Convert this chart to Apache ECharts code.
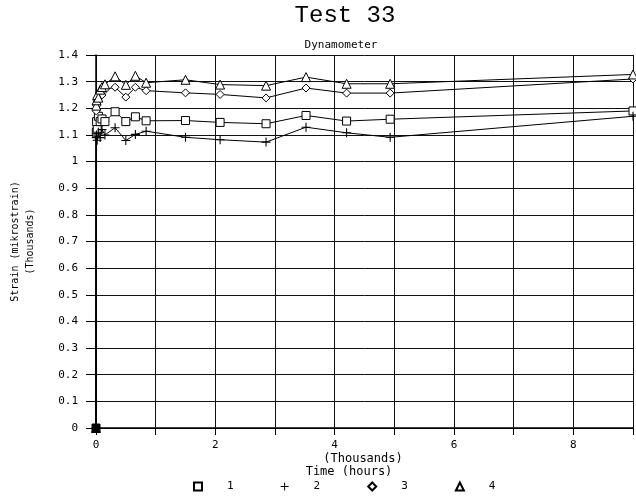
<!DOCTYPE html>
<html>
<head>
<meta charset="utf-8">
<script src="https://cdn.jsdelivr.net/npm/echarts@6/dist/echarts.min.js"></script>
<style>
html,body{margin:0;padding:0;background:#fff;}
#chart{width:636px;height:496px;}
</style>
</head>
<body>
<div id="chart"></div>
<script>
// Time in thousands of hours
var timeK = [0, 0.005, 0.01, 0.02, 0.04, 0.07, 0.1, 0.15, 0.32, 0.5, 0.66, 0.84, 1.5, 2.08, 2.85, 3.52, 4.2, 4.93, 9.0];
// Strain (thousands of mikrostrain)
var series1 = [0, 1.11, 1.15, 1.12, 1.17, 1.15, 1.16, 1.15, 1.187, 1.150, 1.168, 1.153, 1.154, 1.147, 1.142, 1.173, 1.152, 1.159, 1.19];
var series2 = [0, 1.09, 1.10, 1.08, 1.11, 1.09, 1.12, 1.10, 1.127, 1.079, 1.102, 1.114, 1.091, 1.082, 1.073, 1.129, 1.108, 1.091, 1.17];
var series3 = [0, 1.19, 1.21, 1.23, 1.24, 1.26, 1.25, 1.27, 1.279, 1.242, 1.279, 1.266, 1.258, 1.252, 1.239, 1.276, 1.257, 1.257, 1.31];
var series4 = [0, 1.21, 1.23, 1.25, 1.24, 1.27, 1.28, 1.29, 1.32, 1.288, 1.322, 1.296, 1.307, 1.289, 1.285, 1.317, 1.292, 1.292, 1.327];
var seriesNames = ['1', '2', '3', '4'];
var yTicks = [0, 0.1, 0.2, 0.3, 0.4, 0.5, 0.6, 0.7, 0.8, 0.9, 1, 1.1, 1.2, 1.3, 1.4];

var plusPath = 'path://M4.4,0H5.6V4.4H10V5.6H5.6V10H4.4V5.6H0V4.4H4.4Z';
var MONO = 'DejaVu Sans Mono';

function toData(vals) {
  return vals.map(function (v, i) {
    var d = { value: [timeK[i], v] };
    if (i === 0) d.itemStyle = { color: '#000' };
    return d;
  });
}

function mk(name, vals, symbol, size, fill) {
  return {
    name: name,
    type: 'line',
    data: toData(vals),
    symbol: symbol,
    symbolSize: size,
    showAllSymbol: true,
    clip: true,
    lineStyle: { color: '#000', width: 1 },
    itemStyle: { color: fill, borderColor: '#000', borderWidth: fill === '#000' ? 0 : 1 },
    emphasis: { disabled: true },
    animation: false
  };
}

var chart = echarts.init(document.getElementById('chart'), null, { renderer: 'canvas' });
chart.setOption({
  backgroundColor: '#fff',
  animation: false,
  textStyle: { fontFamily: MONO },
  grid: { left: 93, right: -4, top: 55, bottom: 68, containLabel: false },
  xAxis: {
    type: 'value', min: 0, max: 9, interval: 1,
    axisLine: { show: true, onZero: false, lineStyle: { color: '#000', width: 1.5 } },
    axisTick: { show: true, length: 7, lineStyle: { color: '#000' } },
    splitLine: { show: true, lineStyle: { color: '#111', width: 1 } },
    axisLabel: {
      color: '#000', fontSize: 11, fontFamily: MONO, margin: 12,
      formatter: function (v) { return (Math.round(v) % 2 === 0) ? String(Math.round(v)) : ''; }
    }
  },
  yAxis: {
    type: 'value', min: 0, max: 1.4, interval: 0.1,
    name: 'Strain (mikrostrain)\n(Thousands)',
    nameLocation: 'middle', nameRotate: 90, nameGap: 58,
    nameTextStyle: { color: '#000', fontSize: 10, fontFamily: MONO, lineHeight: 15 },
    axisLine: { show: true, lineStyle: { color: '#000', width: 1.5 } },
    axisTick: { show: true, length: 10, lineStyle: { color: '#000' } },
    splitLine: { show: true, lineStyle: { color: '#111', width: 1 } },
    axisLabel: {
      color: '#000', fontSize: 11, fontFamily: MONO, margin: 18,
      formatter: function (v) {
        var t = yTicks.reduce(function (a, b) { return Math.abs(b - v) < Math.abs(a - v) ? b : a; });
        return String(t);
      }
    }
  },
  legend: {
    show: true, left: 193, top: 481, orient: 'horizontal', padding: 0,
    itemWidth: 8, itemHeight: 8, itemGap: 47,
    textStyle: { color: '#000', fontSize: 11, fontFamily: MONO, padding: [0, 0, 0, 20] },
    data: [
      { name: '1', icon: 'rect' },
      { name: '2', icon: plusPath },
      { name: '3', icon: 'diamond' },
      { name: '4', icon: 'triangle' }
    ],
    selectedMode: false
  },
  graphic: [
    { type: 'text', style: { text: 'Test 33', x: 345, y: 16, font: '24px "Liberation Mono"', fill: '#000', align: 'center', verticalAlign: 'middle', textAlign: 'center', textVerticalAlign: 'middle' } },
    { type: 'text', style: { text: 'Dynamometer', x: 341, y: 45, font: '11px "DejaVu Sans Mono"', fill: '#000', align: 'center', verticalAlign: 'middle', textAlign: 'center', textVerticalAlign: 'middle' } },
    { type: 'text', style: { text: '(Thousands)', x: 363, y: 459, font: '12px "DejaVu Sans Mono"', fill: '#000', align: 'center', verticalAlign: 'middle', textAlign: 'center', textVerticalAlign: 'middle' } },
    { type: 'text', style: { text: 'Time (hours)', x: 349, y: 472, font: '12px "DejaVu Sans Mono"', fill: '#000', align: 'center', verticalAlign: 'middle', textAlign: 'center', textVerticalAlign: 'middle' } }
  ],
  series: [
    mk(seriesNames[0], series1, 'rect', 8, '#fff'),
    mk(seriesNames[1], series2, plusPath, 9, '#000'),
    mk(seriesNames[2], series3, 'diamond', 8, '#fff'),
    mk(seriesNames[3], series4, 'triangle', 9, '#fff')
  ]
});
</script>
</body>
</html>
